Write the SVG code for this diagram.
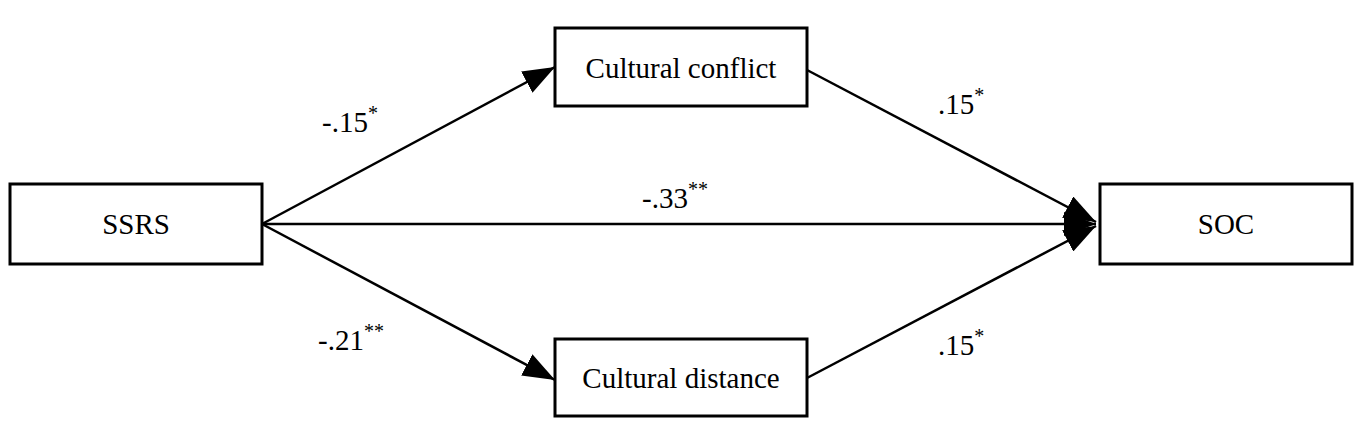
<svg xmlns="http://www.w3.org/2000/svg" width="1369" height="447" viewBox="0 0 1369 447">
<style>
rect{fill:#fff;stroke:#000;stroke-width:3}
text{font-family:"Liberation Serif","Times New Roman","DejaVu Serif",serif;font-size:29px;fill:#000}
.c{text-anchor:middle}
line{stroke:#000;stroke-width:2.5}
</style>
<defs>
<marker id="b" markerWidth="32" markerHeight="24" refX="32" refY="12" orient="auto" markerUnits="userSpaceOnUse" viewBox="0 0 32 24"><path d="M0,0L32,12L0,24z" fill="#000"/></marker></defs>
<rect width="1369" height="447" style="stroke:none"/>
<g id="connectors">
<line x1="262" y1="224" x2="555" y2="67" marker-end="url(#b)"/>
<line x1="262" y1="224" x2="1096" y2="224" marker-end="url(#b)"/>
<line x1="262" y1="224" x2="555" y2="380" marker-end="url(#b)"/>
<line x1="807" y1="70" x2="1096" y2="222" marker-end="url(#b)"/>
<line x1="807" y1="378" x2="1096" y2="226" marker-end="url(#b)"/>
<text x="322" y="132">-.15<tspan dy="-12" font-size="20">*</tspan></text>
<text x="642" y="208">-.33<tspan dy="-12" font-size="20">**</tspan></text>
<text x="318" y="350">-.21<tspan dy="-12" font-size="20">**</tspan></text>
<text x="938" y="114">.15<tspan dy="-12" font-size="20">*</tspan></text>
<text x="938" y="355">.15<tspan dy="-12" font-size="20">*</tspan></text>
</g>
<g id="ssrs"><rect x="10" y="184" width="252" height="80"/><text class="c" x="136" y="234">SSRS</text></g>
<g id="conflict"><rect x="555" y="28" width="252" height="78"/><text class="c" x="681" y="78">Cultural conflict</text></g>
<g id="soc"><rect x="1100" y="184" width="252" height="80"/><text class="c" x="1226" y="234">SOC</text></g>
<g id="distance"><rect x="555" y="339" width="252" height="77"/><text class="c" x="681" y="388">Cultural distance</text></g>
</svg>
